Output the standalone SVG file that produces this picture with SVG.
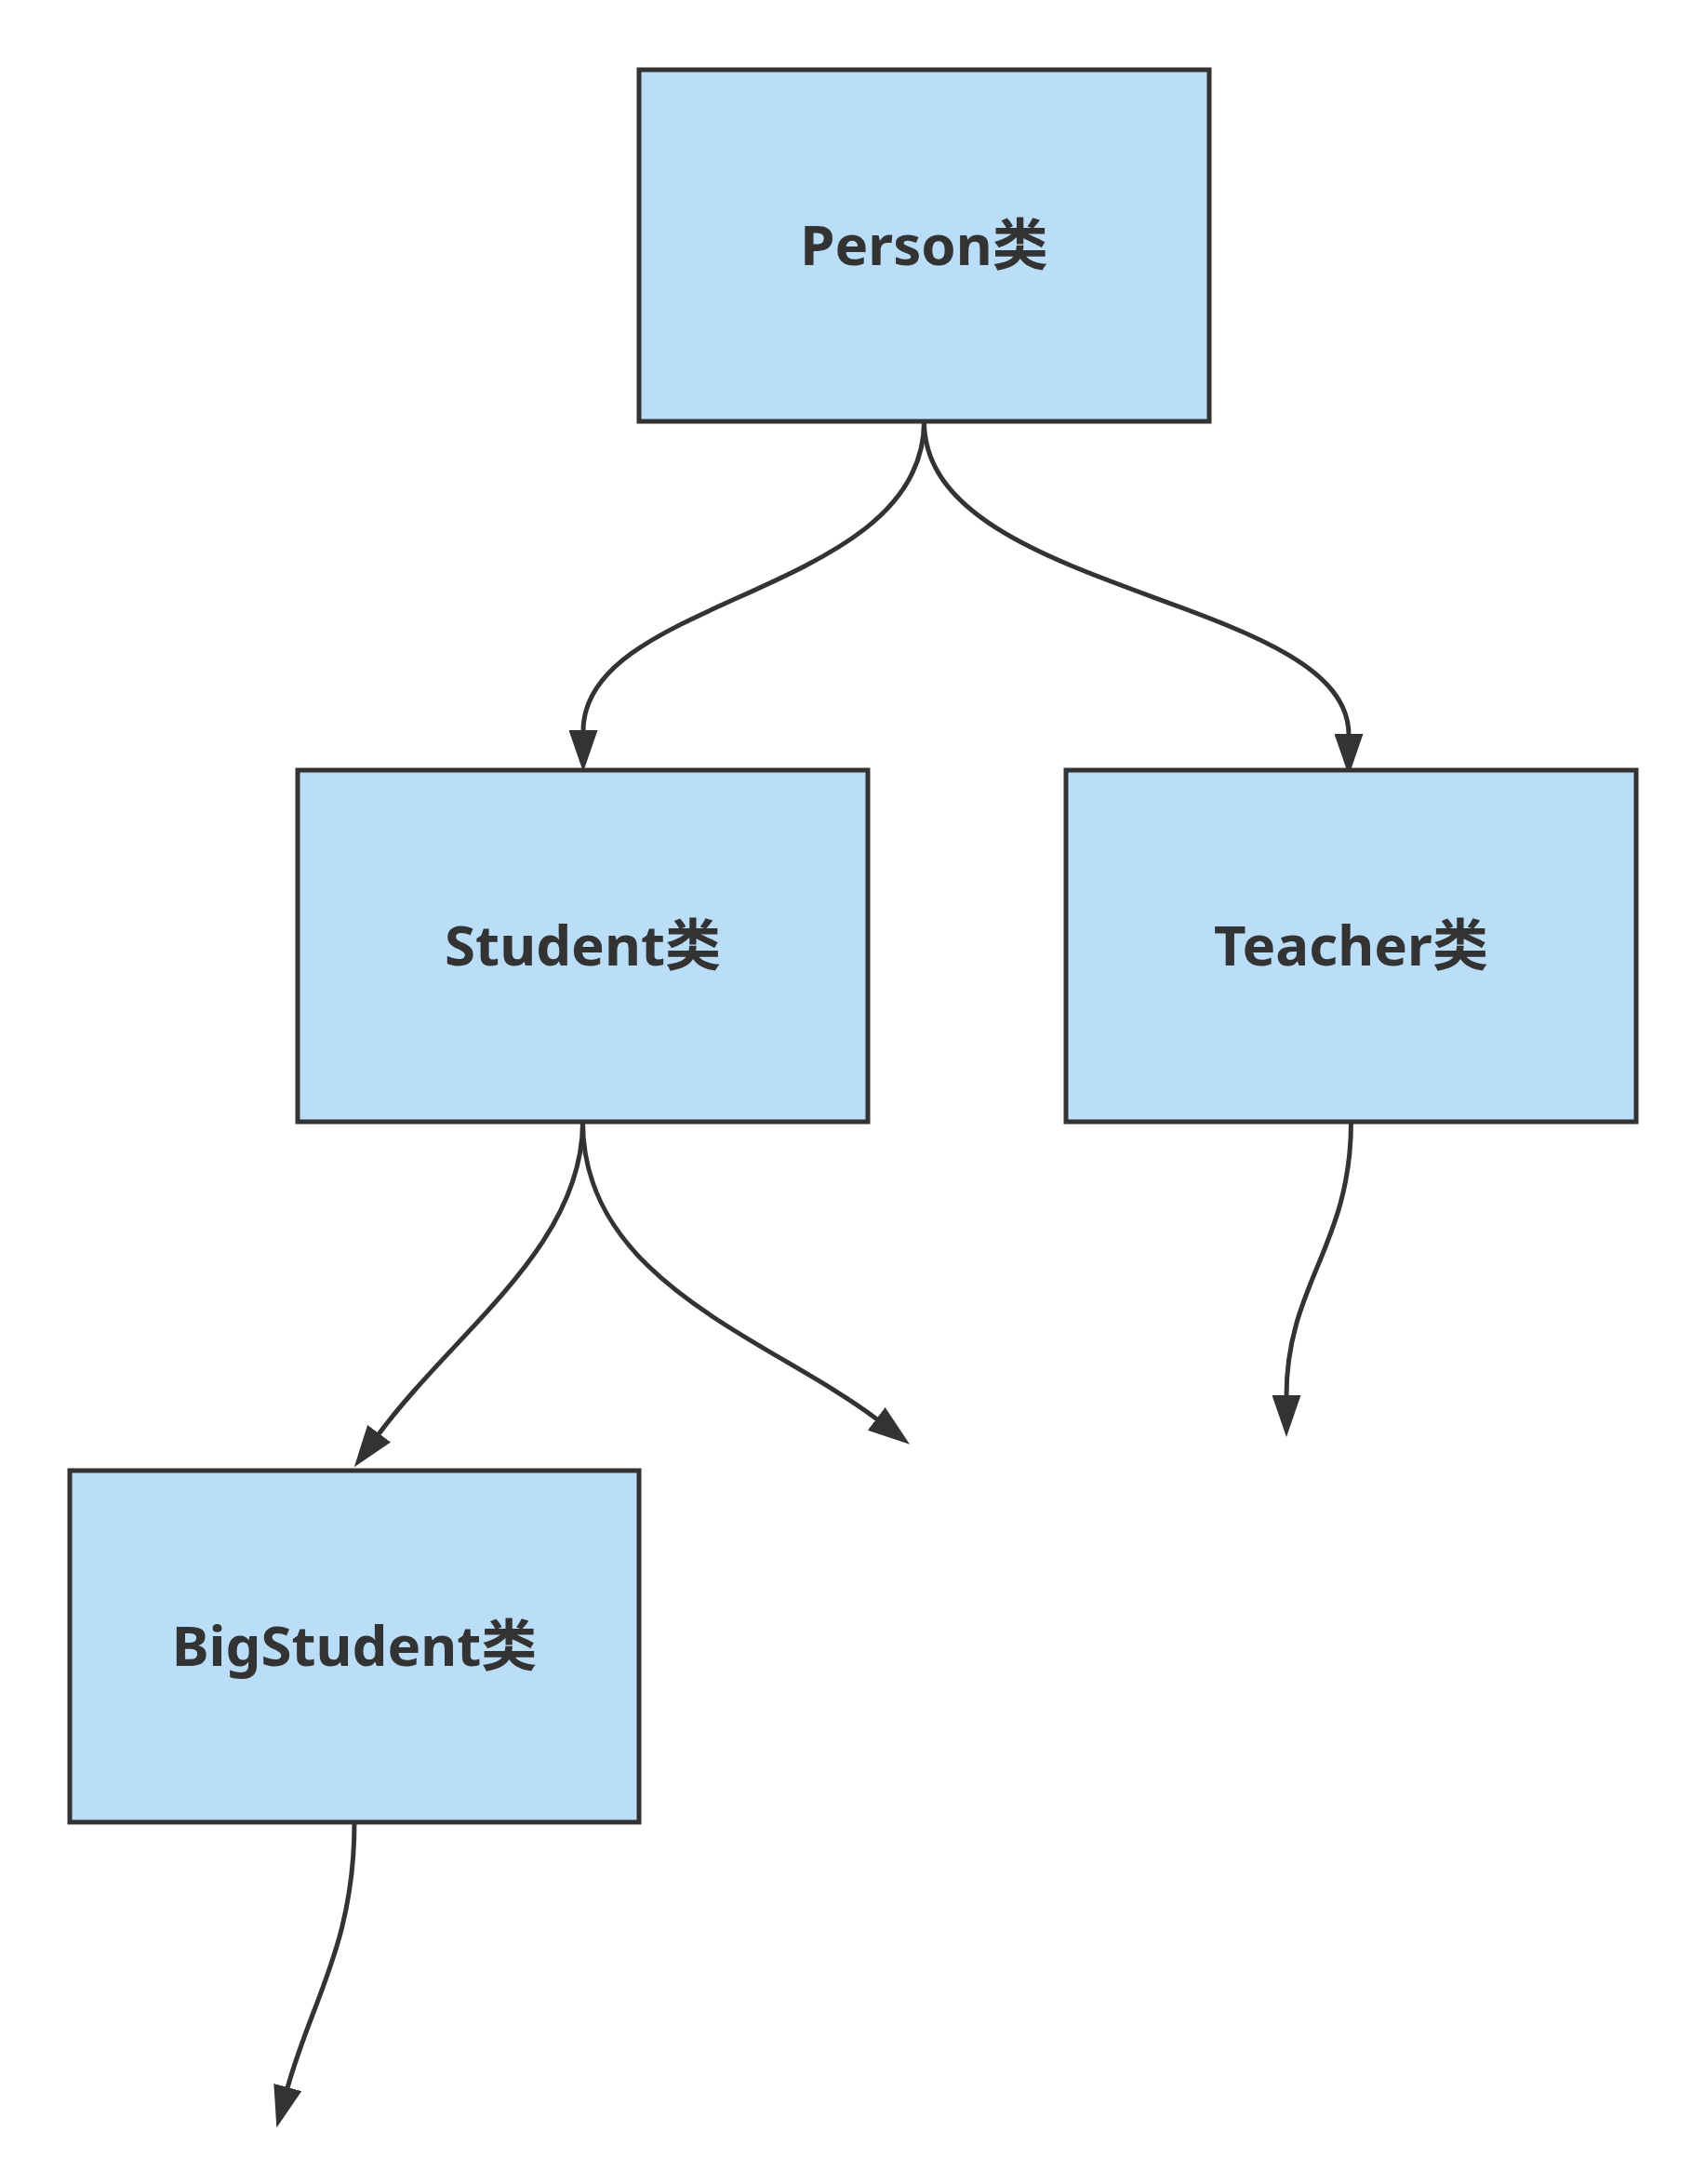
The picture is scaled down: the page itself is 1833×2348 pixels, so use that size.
<svg xmlns="http://www.w3.org/2000/svg" width="1833" height="2348" viewBox="0 0 1833 2348">
<style>
.node rect{fill:#bbdef8;stroke:#333333;stroke-width:5}
.node text{font-family:"Noto Sans","Noto Sans CJK SC",sans-serif;font-weight:bold;font-size:60px;fill:#333333;text-anchor:middle}
.edge{fill:none;stroke:#333333;stroke-width:5;marker-end:url(#arrow)}
</style>
<defs>
<marker id="arrow" markerUnits="userSpaceOnUse" viewBox="0 0 45 31" markerWidth="45" markerHeight="31" refX="1" refY="15.5" orient="auto">
<path d="M0,0 L45,15.5 L0,31 z" fill="#333333"/>
</marker>
</defs>
<rect width="1833" height="2348" fill="#ffffff"/>
<g id="connectors">
<path class="edge" d="M993.5 453 C993.5 640 627 640 627 786"/>
<path class="edge" d="M993.5 453 C993.5 640 1450 640 1450 790"/>
<path class="edge" d="M626.5 1206 C626.5 1340 490 1430 407 1542"/>
<path class="edge" d="M626.5 1206 C626.5 1380 830 1440 943 1526"/>
<path class="edge" d="M1452.5 1206 C1452.5 1340 1383 1380 1383 1501"/>
<path class="edge" d="M381 1959 C381 2090 335 2150 309 2245"/>
</g>
<g id="person" class="node">
<rect x="687" y="75" width="613" height="378"/>
<text x="993.5" y="285">Person类</text>
</g>
<g id="student" class="node">
<rect x="320" y="828" width="613" height="378"/>
<text x="626.5" y="1038">Student类</text>
</g>
<g id="teacher" class="node">
<rect x="1146" y="828" width="613" height="378"/>
<text x="1452.5" y="1038">Teacher类</text>
</g>
<g id="bigstudent" class="node">
<rect x="75" y="1581" width="612" height="378"/>
<text x="381" y="1791">BigStudent类</text>
</g>
</svg>
